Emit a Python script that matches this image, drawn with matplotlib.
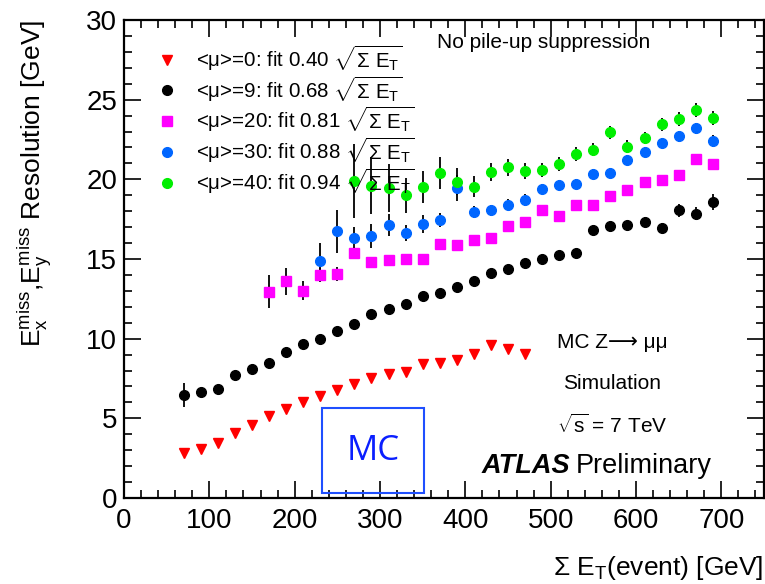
import numpy as np
import matplotlib
matplotlib.use('Agg')
import matplotlib.pyplot as plt
from matplotlib.lines import Line2D
from matplotlib.patches import Rectangle
from matplotlib.ticker import MultipleLocator

plt.rcParams['font.family'] = ['Liberation Sans', 'DejaVu Sans']
plt.rcParams['mathtext.fontset'] = 'custom'
plt.rcParams['mathtext.rm'] = 'Liberation Sans'
plt.rcParams['mathtext.it'] = 'Liberation Sans:italic'
plt.rcParams['mathtext.bf'] = 'Liberation Sans:bold'

# sum E_T bin centres [GeV]
x_mu0 = np.arange(70, 471, 20)
x_mu9 = np.arange(70, 691, 20)
x_mu20 = np.arange(170, 691, 20)
x_mu30 = np.arange(230, 691, 20)
x_mu40 = np.arange(270, 691, 20)

# resolution values [GeV]
res_mu0 = [2.8, 3.1, 3.45, 4.1, 4.6, 5.15, 5.6, 6.0, 6.4, 6.8, 7.15,
           7.55, 7.8, 7.9, 8.4, 8.5, 8.65, 9.05, 9.6, 9.35, 9.05]
res_mu9 = [6.45, 6.65, 6.85, 7.75, 8.1, 8.5, 9.15, 9.65, 10.0, 10.45, 10.95,
           11.55, 11.85, 12.2, 12.65, 12.85, 13.25, 13.65, 14.15, 14.35, 14.75,
           15.0, 15.25, 15.4, 16.85, 17.05, 17.15, 17.35, 16.95, 18.05, 17.85, 18.55]
res_mu20 = [12.95, 13.6, 13.0, 14.0, 14.05, 15.4, 14.8, 14.95, 15.0, 15.0,
            15.95, 15.9, 16.2, 16.3, 17.05, 17.35, 18.1, 17.7, 18.4, 18.4,
            18.95, 19.3, 19.85, 19.95, 20.3, 21.3, 20.95]
res_mu30 = [14.9, 16.75, 16.3, 16.45, 17.15, 16.65, 17.2, 17.45, 19.45, 17.95,
            18.05, 18.4, 18.7, 19.4, 19.65, 19.7, 20.35, 20.4, 21.2, 21.7,
            22.3, 22.7, 23.2, 22.4]
res_mu40 = [19.9, 19.6, 19.45, 19.0, 19.5, 20.4, 19.85, 19.55, 20.45, 20.75,
            20.5, 20.6, 20.95, 21.6, 21.85, 22.95, 22.05, 22.6, 23.45, 23.8,
            24.35, 23.85]

# statistical errors [GeV]
err_mu0 = [0.1] * len(res_mu0)
err_mu9 = [0.75, 0.2, 0.2, 0.2, 0.2, 0.2, 0.2, 0.2, 0.2, 0.2, 0.2,
           0.2, 0.2, 0.2, 0.2, 0.2, 0.2, 0.2, 0.2, 0.2, 0.2,
           0.2, 0.2, 0.25, 0.25, 0.25, 0.25, 0.3, 0.3, 0.4, 0.4, 0.5]
err_mu20 = [1.05, 0.85, 0.6, 0.45, 0.42, 0.37, 0.3, 0.3, 0.3, 0.3,
            0.3, 0.3, 0.3, 0.3, 0.3, 0.3, 0.3, 0.3, 0.3, 0.3,
            0.3, 0.3, 0.3, 0.3, 0.3, 0.3, 0.3]
err_mu30 = [1.1, 1.35, 0.7, 0.73, 0.68, 0.5, 0.55, 0.45, 0.8, 0.4,
            0.35, 0.35, 0.35, 0.3, 0.3, 0.3, 0.3, 0.3, 0.3, 0.3,
            0.3, 0.35, 0.35, 0.4]
err_mu40 = [2.3, 1.8, 1.5, 1.1, 1.0, 1.0, 0.85, 0.65, 0.57, 0.55,
            0.5, 0.45, 0.45, 0.45, 0.4, 0.4, 0.4, 0.4, 0.4, 0.45,
            0.45, 0.45]

labels = ['<μ>=0: fit 0.40 ', '<μ>=9: fit 0.68 ', '<μ>=20: fit 0.81 ',
          '<μ>=30: fit 0.88 ', '<μ>=40: fit 0.94 ']

series = [
    (x_mu0, res_mu0, err_mu0, 'v', '#ff0000', 7),
    (x_mu9, res_mu9, err_mu9, 'o', '#000000', 7),
    (x_mu20, res_mu20, err_mu20, 's', '#ff00ff', 7),
    (x_mu30, res_mu30, err_mu30, 'o', '#0066ff', 7),
    (x_mu40, res_mu40, err_mu40, 'o', '#00ee00', 7),
]

fig = plt.figure(figsize=(7.65, 5.84), dpi=100)
ax = fig.add_axes([124/765, 86/584, 640/765, 478/584])

handles = []
for (x, y, e, m, c, ms), lab in zip(series, labels):
    ax.errorbar(x, y, yerr=e, fmt=m, color=c, ms=ms, mec=c, ecolor='black',
                elinewidth=1.3, capsize=0, zorder=3)
    handles.append(Line2D([], [], ls='none', marker=m, color=c, ms=ms,
                          label=lab + r'$\sqrt{\Sigma\ \mathrm{E}_\mathrm{T}}$'))

ax.set_xlim(0, 750)
ax.set_ylim(0, 30)
ax.xaxis.set_major_locator(MultipleLocator(100))
ax.xaxis.set_minor_locator(MultipleLocator(20))
ax.yaxis.set_major_locator(MultipleLocator(5))
ax.yaxis.set_minor_locator(MultipleLocator(1))
ax.tick_params(which='both', direction='in', top=True, right=True, width=1.2)
ax.tick_params(which='major', length=12, labelsize=20)
ax.tick_params(which='minor', length=6)
ax.tick_params(axis='x', pad=7)
ax.tick_params(axis='y', pad=5)
for s in ax.spines.values():
    s.set_linewidth(1.6)

ax.legend(handles=handles, loc='upper left', bbox_to_anchor=(0.052, 0.952),
          frameon=False, fontsize=14.8, handlelength=0.9, handletextpad=1.0,
          borderpad=0, borderaxespad=0, labelspacing=0.04)

ax.text(0.489, 0.952, 'No pile-up suppression', transform=ax.transAxes,
        fontsize=15, ha='left', va='center')
ax.text(0.7625, 0.326, 'MC Z⟶ μμ', transform=ax.transAxes,
        fontsize=15, ha='center', va='center')
ax.text(0.7625, 0.2385, 'Simulation', transform=ax.transAxes,
        fontsize=15, ha='center', va='center')
ax.text(0.7625, 0.153, r'$\sqrt{\mathrm{s}}$ = 7 TeV', transform=ax.transAxes,
        fontsize=15, ha='center', va='center')
ax.text(0.559, 0.067, 'ATLAS', transform=ax.transAxes, fontsize=19.5,
        fontweight='bold', style='italic', ha='left', va='center')
ax.text(0.706, 0.067, 'Preliminary', transform=ax.transAxes, fontsize=19.5,
        ha='left', va='center')

ax.add_patch(Rectangle((0.309, 0.0105), 0.16, 0.1775, transform=ax.transAxes,
                       fill=False, ec='#1f4fff', lw=1.5, zorder=4))
ax.text(0.389, 0.098, 'MC', transform=ax.transAxes, fontsize=25,
        color='#0a1fff', family='Open Sans', ha='center', va='center')

fig.text(35/765, 1 - 20/584,
         r'$\mathrm{E_x^{miss}}$,$\mathrm{E_y^{miss}}$ Resolution [GeV]',
         rotation=90, fontsize=19, ha='center', va='top')
fig.text(763/765, 16/584, r'$\Sigma$ $\mathrm{E_T}$(event) [GeV]',
         fontsize=19, ha='right', va='center')

fig.savefig('out.png', dpi=100)
